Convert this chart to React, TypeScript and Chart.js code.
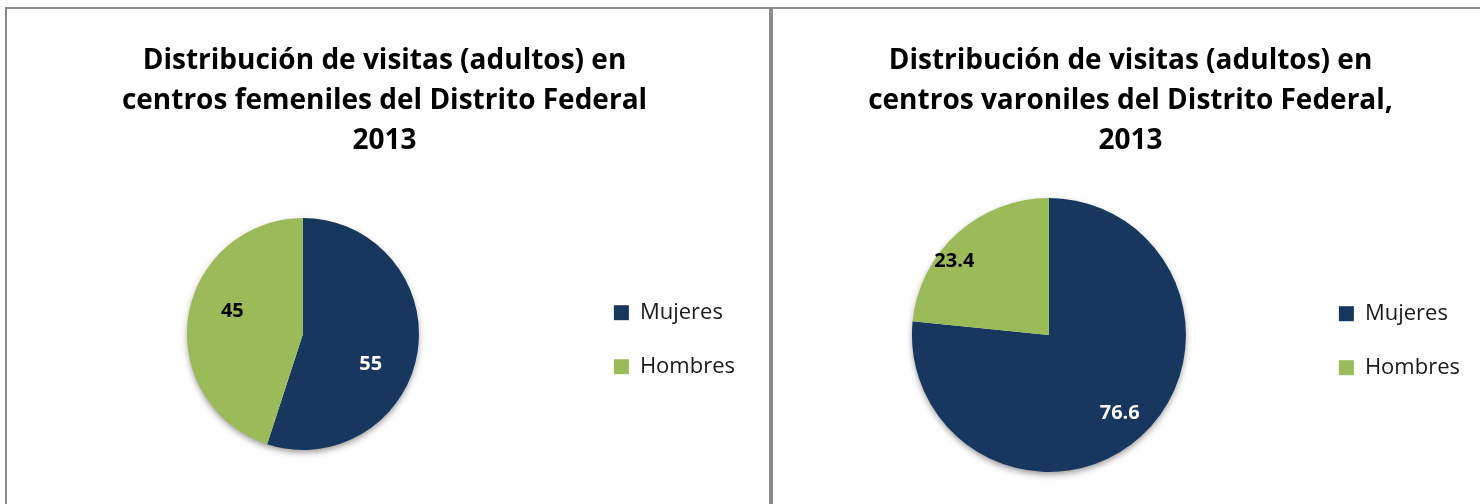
import React, { useEffect, useRef } from "react";
import { Chart, registerables } from "chart.js";

Chart.register(...registerables);

// ---- data ----
const categories = ["Mujeres", "Hombres"];
const femenilValues = [55, 45];
const varonilValues = [76.6, 23.4];
const femenilTitle = [
  "Distribución de visitas (adultos) en",
  "centros femeniles del Distrito Federal",
  "2013",
];
const varonilTitle = [
  "Distribución de visitas (adultos) en",
  "centros varoniles del Distrito Federal,",
  "2013",
];

// ---- styles ----
const sliceColors = ["#17375E", "#9BBB59"];
const labelColors = ["#FFFFFF", "#000000"];
const FONT = "'Open Sans', 'Noto Sans', sans-serif";
const BORDER = "#8c8c8c";

type LabelPlace = { radius: number[]; shiftDeg: number[] };

const shadowPlugin = {
  id: "pieShadow",
  beforeDatasetsDraw(chart: any) {
    const meta = chart.getDatasetMeta(0);
    const arc = meta.data[0];
    if (!arc) return;
    const { x, y, outerRadius } = arc.getProps(["x", "y", "outerRadius"], true);
    const ctx = chart.ctx;
    ctx.save();
    ctx.shadowColor = "rgba(0,0,0,0.45)";
    ctx.shadowBlur = 7;
    ctx.shadowOffsetY = 3;
    ctx.fillStyle = "#ffffff";
    ctx.beginPath();
    ctx.arc(x, y, outerRadius - 1, 0, Math.PI * 2);
    ctx.fill();
    ctx.restore();
  },
};

const valueLabelPlugin = {
  id: "valueLabels",
  afterDatasetsDraw(chart: any, _args: any, opts: any) {
    const ctx = chart.ctx;
    const meta = chart.getDatasetMeta(0);
    const values = chart.data.datasets[0].data as number[];
    const place: LabelPlace = opts.place;
    ctx.save();
    ctx.font = `bold 20px ${FONT}`;
    ctx.textAlign = "center";
    ctx.textBaseline = "middle";
    meta.data.forEach((arc: any, i: number) => {
      const { x, y, startAngle, endAngle, outerRadius } = arc.getProps(
        ["x", "y", "startAngle", "endAngle", "outerRadius"],
        true
      );
      const mid = (startAngle + endAngle) / 2 + (place.shiftDeg[i] * Math.PI) / 180;
      const r = outerRadius * place.radius[i];
      ctx.fillStyle = labelColors[i];
      ctx.fillText(String(values[i]), x + Math.cos(mid) * r, y + Math.sin(mid) * r);
    });
    ctx.restore();
  },
};

type PieProps = {
  width: number;
  height: number;
  title: string[];
  values: number[];
  radius: number;
  padding: { left: number; right: number; top: number; bottom: number };
  place: LabelPlace;
};

function PieChart({ width, height, title, values, radius, padding, place }: PieProps) {
  const ref = useRef<HTMLCanvasElement | null>(null);
  useEffect(() => {
    if (!ref.current) return;
    const chart = new Chart(ref.current, {
      type: "pie",
      data: {
        labels: categories,
        datasets: [
          {
            data: values,
            backgroundColor: sliceColors,
            borderWidth: 0,
            radius: radius,
          },
        ],
      },
      plugins: [shadowPlugin, valueLabelPlugin],
      options: {
        animation: false,
        responsive: false,
        devicePixelRatio: 1,
        layout: { padding },
        plugins: {
          title: {
            display: true,
            text: title,
            color: "#000000",
            font: { family: FONT, size: 28, weight: "bold", lineHeight: "40px" },
            padding: { top: 32, bottom: 9 },
          },
          legend: {
            display: true,
            position: "right",
            title: {
              display: true,
              text: "",
              font: { size: 12, lineHeight: 1.2 },
              padding: { top: 158, bottom: 0 },
            },
            labels: {
              boxWidth: 15,
              boxHeight: 15,
              padding: 32,
              color: "#1a1a1a",
              font: { family: FONT, size: 22 },
            },
          },
          tooltip: { enabled: false },
          valueLabels: { place },
        } as any,
      },
    });
    return () => chart.destroy();
  }, []);
  return (
    <canvas
      ref={ref}
      width={width}
      height={height}
      style={{ display: "block", width, height }}
    />
  );
}

export default function App() {
  return (
    <div
      style={{
        position: "fixed",
        left: 0,
        top: 0,
        width: 1480,
        height: 504,
        overflow: "hidden",
        background: "#ffffff",
      }}
    >
      <div
        style={{
          position: "absolute",
          left: 5,
          top: 7,
          width: 762,
          height: 600,
          borderLeft: `2px solid ${BORDER}`,
          borderTop: `2px solid ${BORDER}`,
          borderRight: `2px solid ${BORDER}`,
        }}
      >
        <PieChart
          width={762}
          height={495}
          title={femenilTitle}
          values={femenilValues}
          radius={116}
          padding={{ left: 17, right: 24, top: 0, bottom: 6 }}
          place={{ radius: [0.64, 0.64], shiftDeg: [15, 9] }}
        />
      </div>
      <div
        style={{
          position: "absolute",
          left: 771,
          top: 7,
          width: 720,
          height: 600,
          borderLeft: `2px solid ${BORDER}`,
          borderTop: `2px solid ${BORDER}`,
        }}
      >
        <PieChart
          width={720}
          height={495}
          title={varonilTitle}
          values={varonilValues}
          radius={137}
          padding={{ left: 18, right: 23, top: 0, bottom: 4 }}
          place={{ radius: [0.77, 0.875], shiftDeg: [0, -10] }}
        />
      </div>
    </div>
  );
}
